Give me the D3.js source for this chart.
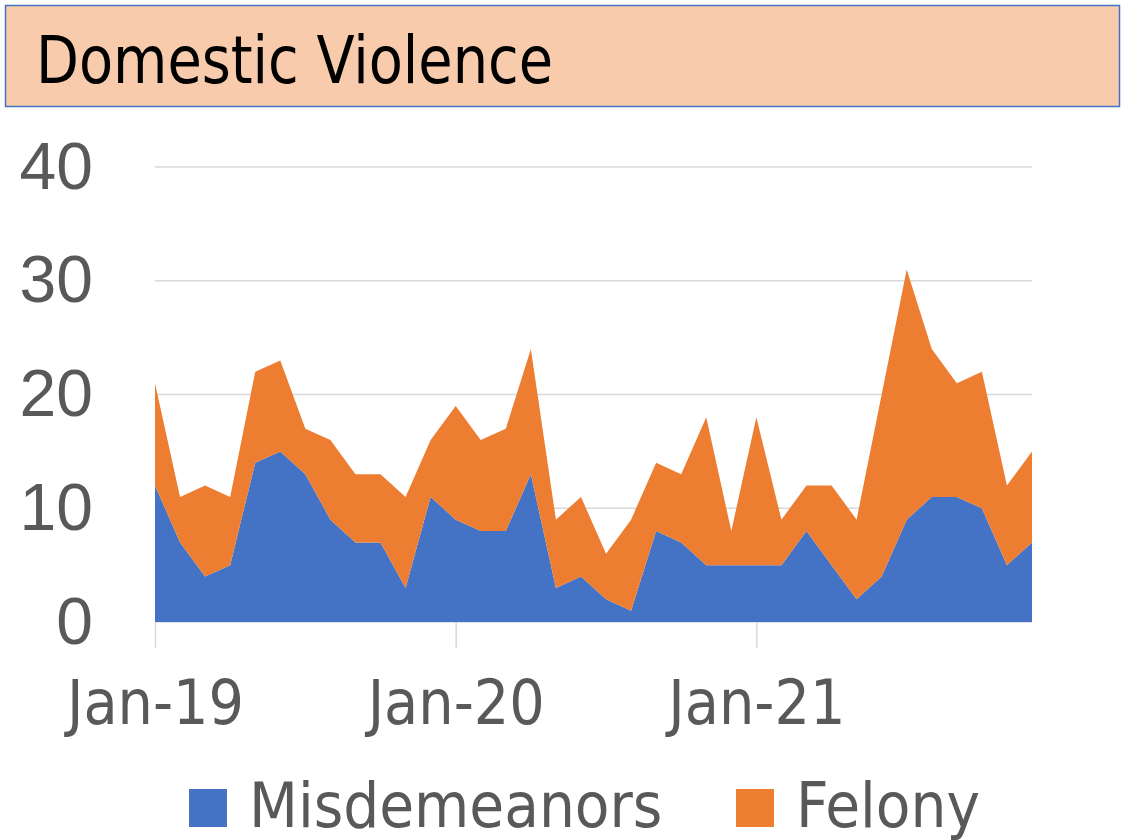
<!DOCTYPE html>
<html>
<head>
<meta charset="utf-8">
<script src="https://cdn.jsdelivr.net/npm/d3@7"></script>
<style>
  body { margin: 0; background: #fff; }
  svg { display: block; }
  .narrow { font-family: "Liberation Sans Narrow", "DejaVu Sans Condensed", "Arial Narrow", sans-serif; }
</style>
</head>
<body>
<div class="chart"></div>
<script>
// month labels, one per data point
var months = ["Jan-19","Feb-19","Mar-19","Apr-19","May-19","Jun-19","Jul-19","Aug-19","Sep-19","Oct-19","Nov-19","Dec-19",
              "Jan-20","Feb-20","Mar-20","Apr-20","May-20","Jun-20","Jul-20","Aug-20","Sep-20","Oct-20","Nov-20","Dec-20",
              "Jan-21","Feb-21","Mar-21","Apr-21","May-21","Jun-21","Jul-21","Aug-21","Sep-21","Oct-21","Nov-21","Dec-21"];

var misdemeanors = [12,7,4,5,14,15,13,9,7,7,3,11, 9,8,8,13,3,4,2,1,8,7,5,5, 5,5,8,5,2,4,9,11,11,10,5,7];
var felony       = [9,4,8,6,8,8,4,7,6,6,8,5, 10,8,9,11,6,7,4,8,6,6,13,3, 13,4,4,7,7,16,22,13,10,12,7,8];

var yTicks = [0, 10, 20, 30, 40];
var xTickLabels = ["Jan-19", "Jan-20", "Jan-21"];

var seriesNames = ["Misdemeanors", "Felony"];
var colors = {"Misdemeanors": "#4472C4", "Felony": "#ED7D31"};

var svgWidth = 1132, svgHeight = 840;
var margin = {top: 167, right: 100, bottom: 218, left: 155};
var width = 1032 - margin.left;
var height = 622 - margin.top;

// build rows for the stack
var rows = months.map((m, i) => ({i: i, month: m, Misdemeanors: misdemeanors[i], Felony: felony[i]}));
var stacked = d3.stack().keys(seriesNames)(rows);

var xScale = d3.scaleLinear()
      .domain([0, months.length - 1])
      .range([0, width]);

var yScale = d3.scaleLinear()
      .domain([0, 40])
      .range([height, 0]);

const svg = d3.select(".chart").append("svg")
  .attr("width", svgWidth)
  .attr("height", svgHeight);

// title box
svg.append("rect")
  .attr("x", 5.5).attr("y", 5.5)
  .attr("width", 1114).attr("height", 101)
  .attr("fill", "#F8CBAD")
  .attr("stroke", "#4472C4")
  .attr("stroke-width", 1.5);

svg.append("text")
  .attr("class", "narrow")
  .attr("x", 36).attr("y", 83)
  .attr("font-size", 66)
  .attr("textLength", 517)
  .attr("lengthAdjust", "spacingAndGlyphs")
  .attr("fill", "#000")
  .text("Domestic Violence");

const g = svg.append("g")
  .attr("transform", "translate(" + margin.left + "," + margin.top + ")");

// gridlines
g.append("g")
  .selectAll("line")
  .data(yTicks)
  .enter().append("line")
  .attr("x1", 0).attr("x2", width)
  .attr("y1", d => yScale(d)).attr("y2", d => yScale(d))
  .attr("stroke", "#d9d9d9")
  .attr("stroke-width", 1.5);

// stacked areas
var area = d3.area()
  .x(d => xScale(d.data.i))
  .y0(d => yScale(d[0]))
  .y1(d => yScale(d[1]));

g.selectAll(".layer")
  .data(stacked)
  .enter().append("path")
  .attr("class", "layer")
  .attr("fill", d => colors[d.key])
  .attr("d", area);

// x axis
var xAxis = g.append("g")
  .attr("transform", "translate(0," + height + ")")
  .call(d3.axisBottom(xScale)
        .tickValues(xTickLabels.map(l => months.indexOf(l)))
        .tickFormat(d => months[d])
        .tickSize(26)
        .tickPadding(32));

xAxis.select(".domain").remove();
xAxis.selectAll(".tick line").attr("stroke", "#d9d9d9").attr("stroke-width", 1.5);
xAxis.selectAll(".tick text")
  .attr("class", "narrow")
  .attr("font-size", 62)
  .attr("fill", "#595959");

// y axis
var yAxis = g.append("g")
  .call(d3.axisLeft(yScale)
        .tickValues(yTicks)
        .tickSize(0)
        .tickPadding(62));

yAxis.select(".domain").remove();
yAxis.selectAll(".tick text")
  .attr("font-family", "'Liberation Sans', Arial, sans-serif")
  .attr("font-size", 66)
  .attr("fill", "#595959");

// legend
var legendItems = [{name: "Misdemeanors", x: 189}, {name: "Felony", x: 736}];
var legend = svg.append("g").selectAll("g")
  .data(legendItems)
  .enter().append("g")
  .attr("transform", d => "translate(" + d.x + ",789)");

legend.append("rect")
  .attr("width", 38).attr("height", 38)
  .attr("fill", d => colors[d.name]);

legend.append("text")
  .attr("class", "narrow")
  .attr("x", 60).attr("y", 38)
  .attr("font-size", 63)
  .attr("fill", "#595959")
  .text(d => d.name);
</script>
</body>
</html>
